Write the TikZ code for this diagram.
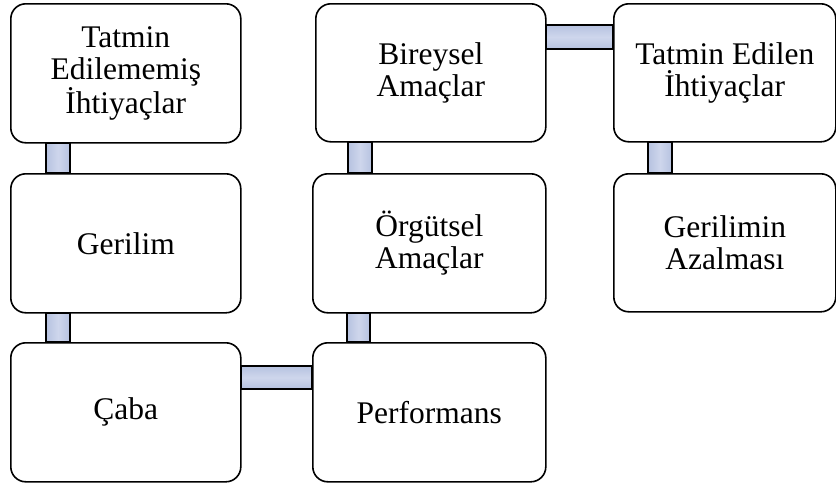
\documentclass[tikz,border=0pt]{standalone}
\usepackage{fontspec}
\setmainfont{Liberation Serif}
\usetikzlibrary{calc}
\definecolor{barfill}{RGB}{182,194,224}
\definecolor{barlight}{RGB}{206,214,236}
\tikzset{
  box/.style={draw=black, line width=1.6pt, rounded corners=15pt, fill=white,
    minimum width=230pt, minimum height=139pt, align=center,
    font=\fontsize{31.5}{32}\selectfont, inner sep=0pt},
  vbar/.style={draw=black, line width=1.6pt, left color=barfill, right color=barfill, middle color=barlight},
  hbar/.style={draw=black, line width=1.6pt, top color=barfill, bottom color=barfill, middle color=barlight},
}
\begin{document}
\begin{tikzpicture}[x=1pt,y=-1pt]
\useasboundingbox (0,0) rectangle (836,485);
\node[box, anchor=north west] (a) at (10,3) {Tatmin\\Edilememiş\\İhtiyaçlar};
\node[box, anchor=north west] (b) at (10,173) {Gerilim};
\node[box, anchor=north west] (c) at (10,342) {Çaba};
\node[box, anchor=north west, minimum width=233pt] (d) at (312,342) {Performans};
\node[box, anchor=north west, minimum width=233pt] (e) at (312,173) {Örgütsel\\Amaçlar};
\node[box, anchor=north west, minimum width=230pt, minimum height=138pt] (f) at (315,3) {Bireysel\\Amaçlar};
\node[box, anchor=north west, minimum width=222pt, minimum height=138pt] (g) at (613,3) {Tatmin Edilen\\İhtiyaçlar};
\node[box, anchor=north west, minimum width=222pt, minimum height=138pt] (h) at (613,173) {Gerilimin\\Azalması};
\draw[vbar] ($(a.south west)+(36,0)$) rectangle ($(b.north west)+(60,0)$);
\draw[vbar] ($(b.south west)+(36,0)$) rectangle ($(c.north west)+(60,0)$);
\draw[hbar] ($(c.north east)+(0,24)$) rectangle ($(d.north west)+(0,47)$);
\draw[vbar] ($(e.south west)+(35,0)$) rectangle ($(d.north west)+(58,0)$);
\draw[vbar] ($(f.south west)+(33,0)$) rectangle ($(e.north west)+(60,0)$);
\draw[hbar] ($(f.north east)+(0,22)$) rectangle ($(g.north west)+(0,46)$);
\draw[vbar] ($(g.south west)+(35,0)$) rectangle ($(h.north west)+(59,0)$);
\end{tikzpicture}
\end{document}
